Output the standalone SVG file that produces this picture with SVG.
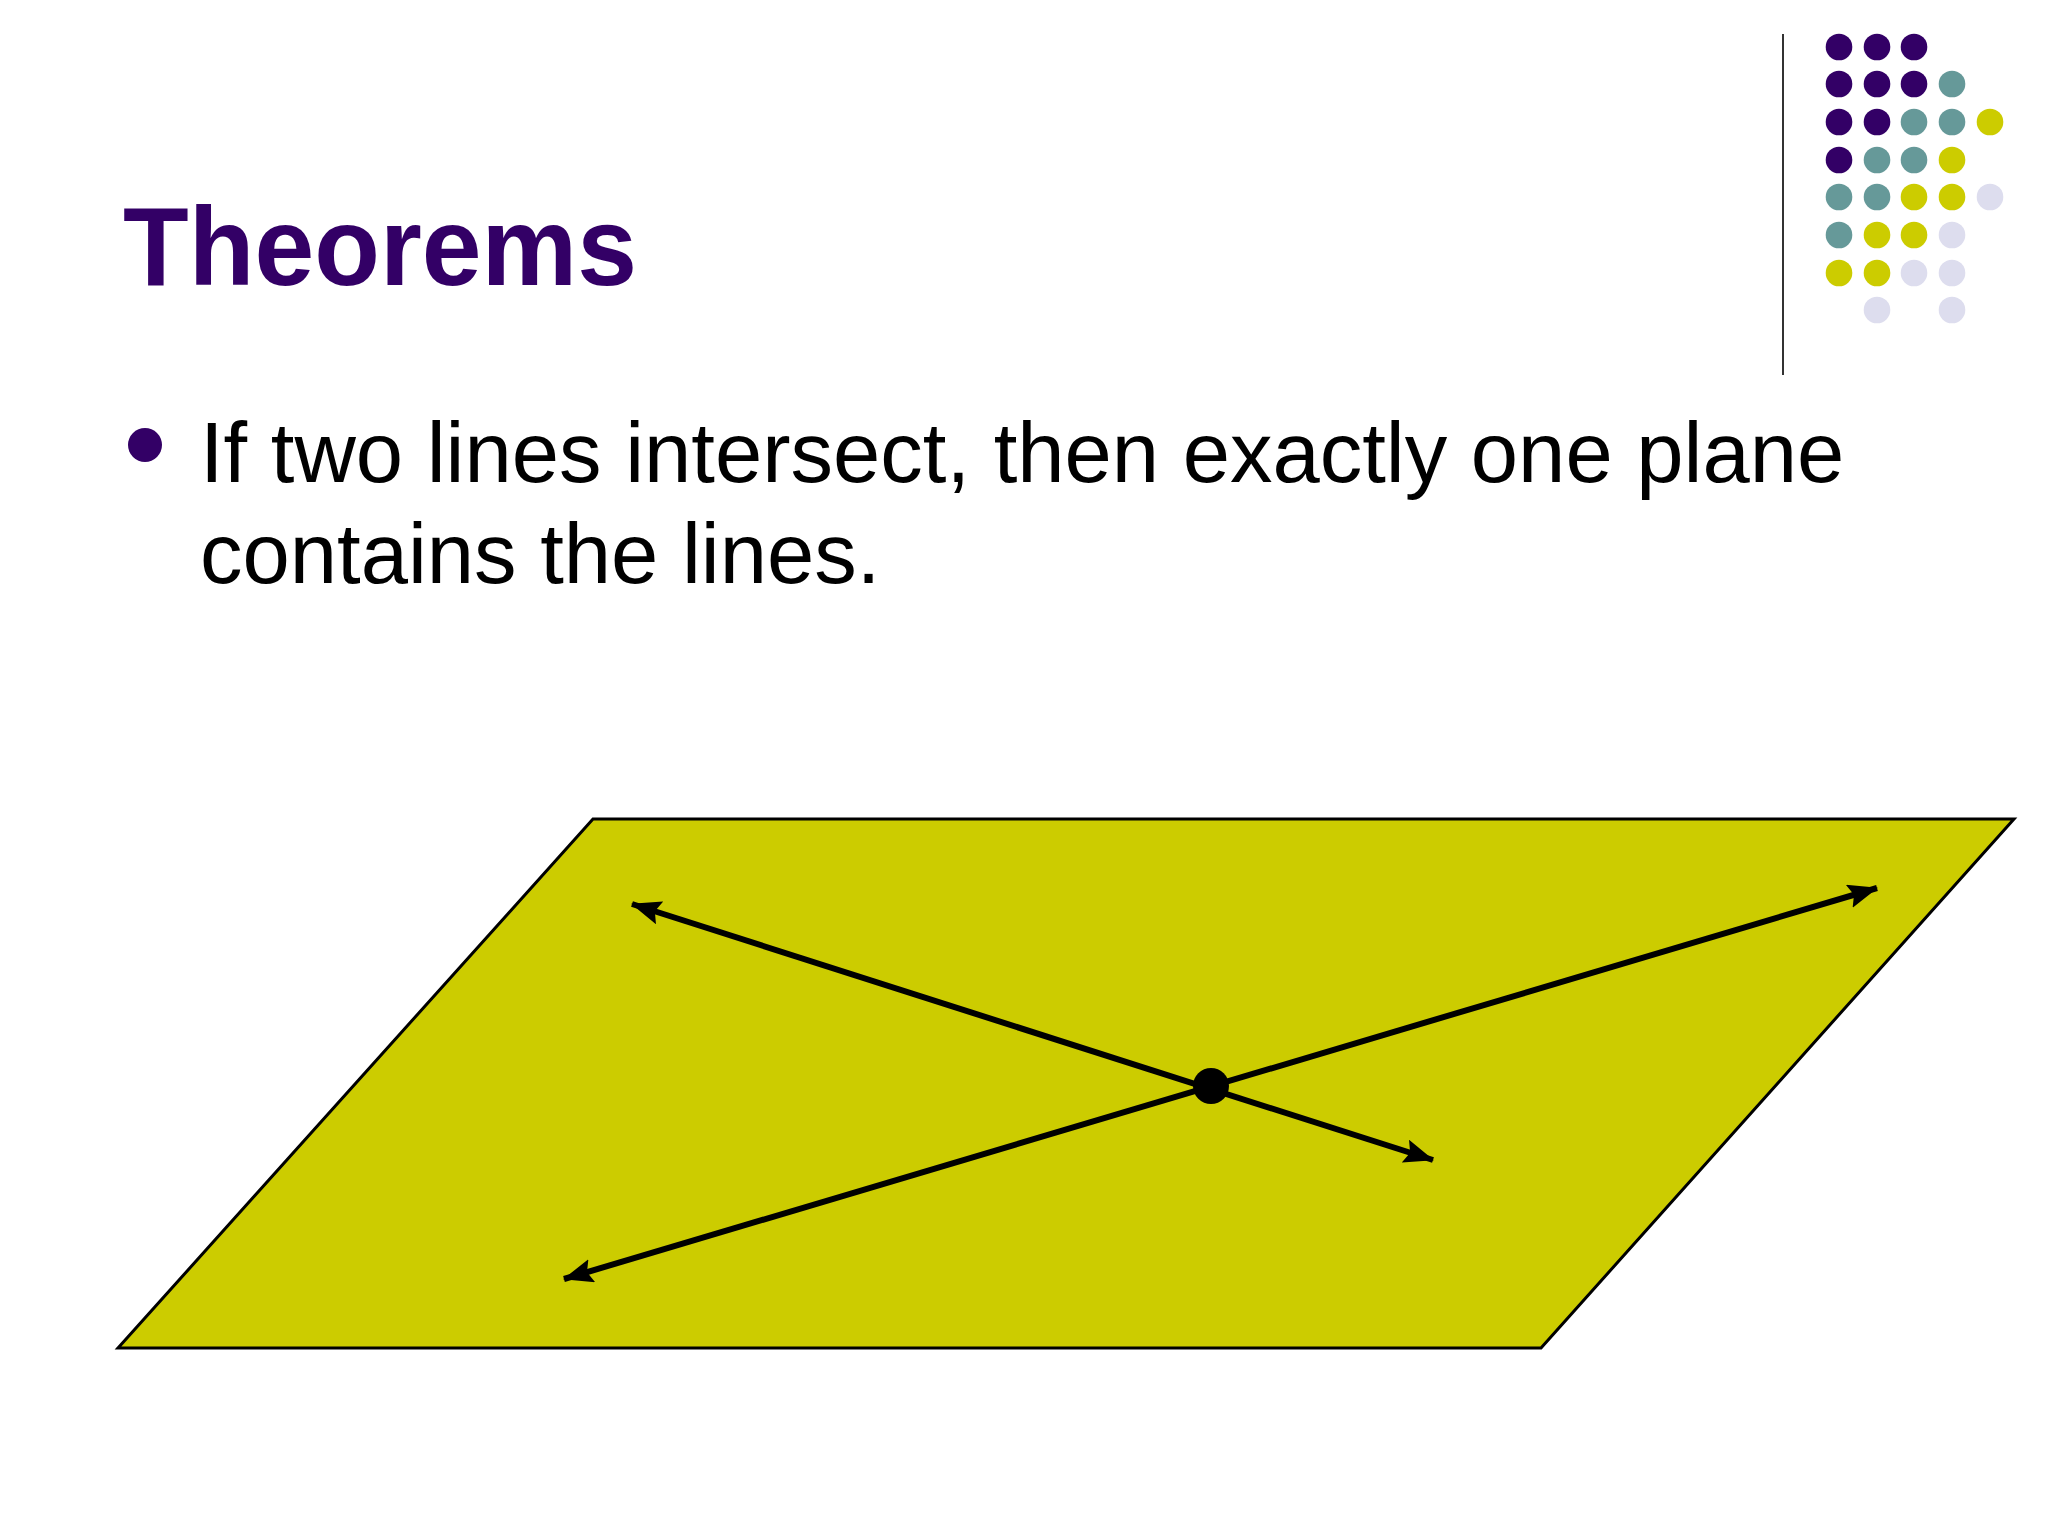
<svg xmlns="http://www.w3.org/2000/svg" width="2048" height="1536" viewBox="0 0 2048 1536">
  <style>
    .p { fill: #330066; }
    .t { fill: #669999; }
    .y { fill: #CCCC00; }
    .l { fill: #DDDDEE; }
    .title { font-family: "Liberation Sans", Arial, sans-serif; font-weight: bold; font-size: 112px; fill: #330066; }
    .body { font-family: "Liberation Sans", Arial, sans-serif; font-size: 85px; fill: #000000; }
    .ln { stroke: #000; stroke-width: 6; fill: none; marker-start: url(#ah); marker-end: url(#ah); }
  </style>
  <defs>
    <marker id="ah" viewBox="0 0 30 24" refX="29" refY="12" markerWidth="30" markerHeight="24" markerUnits="userSpaceOnUse" orient="auto-start-reverse">
      <path d="M0,0 L30,12 L0,24 L5,12 z" fill="#000"/>
    </marker>
  </defs>
  <rect width="2048" height="1536" fill="#FFFFFF"/>

  <g id="decor">
    <line x1="1783" y1="34" x2="1783" y2="375" stroke="#333333" stroke-width="2"/>
    <g id="dots">
      <circle class="p" cx="1839" cy="47" r="13.3"/>
      <circle class="p" cx="1877" cy="47" r="13.3"/>
      <circle class="p" cx="1914" cy="47" r="13.3"/>

      <circle class="p" cx="1839" cy="84" r="13.3"/>
      <circle class="p" cx="1877" cy="84" r="13.3"/>
      <circle class="p" cx="1914" cy="84" r="13.3"/>
      <circle class="t" cx="1952" cy="84" r="13.3"/>

      <circle class="p" cx="1839" cy="122" r="13.3"/>
      <circle class="p" cx="1877" cy="122" r="13.3"/>
      <circle class="t" cx="1914" cy="122" r="13.3"/>
      <circle class="t" cx="1952" cy="122" r="13.3"/>
      <circle class="y" cx="1990" cy="122" r="13.3"/>

      <circle class="p" cx="1839" cy="160" r="13.3"/>
      <circle class="t" cx="1877" cy="160" r="13.3"/>
      <circle class="t" cx="1914" cy="160" r="13.3"/>
      <circle class="y" cx="1952" cy="160" r="13.3"/>

      <circle class="t" cx="1839" cy="197" r="13.3"/>
      <circle class="t" cx="1877" cy="197" r="13.3"/>
      <circle class="y" cx="1914" cy="197" r="13.3"/>
      <circle class="y" cx="1952" cy="197" r="13.3"/>
      <circle class="l" cx="1990" cy="197" r="13.3"/>

      <circle class="t" cx="1839" cy="235" r="13.3"/>
      <circle class="y" cx="1877" cy="235" r="13.3"/>
      <circle class="y" cx="1914" cy="235" r="13.3"/>
      <circle class="l" cx="1952" cy="235" r="13.3"/>

      <circle class="y" cx="1839" cy="273" r="13.3"/>
      <circle class="y" cx="1877" cy="273" r="13.3"/>
      <circle class="l" cx="1914" cy="273" r="13.3"/>
      <circle class="l" cx="1952" cy="273" r="13.3"/>

      <circle class="l" cx="1877" cy="310" r="13.3"/>
      <circle class="l" cx="1952" cy="310" r="13.3"/>
    </g>
  </g>

  <g id="title">
    <text class="title" x="123" y="285" textLength="514" lengthAdjust="spacingAndGlyphs">Theorems</text>
  </g>

  <g id="bullet">
    <circle cx="145" cy="445" r="17" fill="#330066"/>
    <text class="body" x="200" y="482">If two lines intersect, then exactly one plane</text>
    <text class="body" x="200" y="583">contains the lines.</text>
  </g>

  <g id="plane">
    <polygon points="593,819 2014,819 1541,1348 118,1348" fill="#CCCC00" stroke="#000" stroke-width="3"/>
  </g>

  <g id="connectors">
    <line class="ln" x1="632" y1="904" x2="1433" y2="1160"/>
    <line class="ln" x1="564" y1="1279" x2="1877" y2="888"/>
  </g>

  <g id="point">
    <circle cx="1211" cy="1086" r="18" fill="#000"/>
  </g>
</svg>
